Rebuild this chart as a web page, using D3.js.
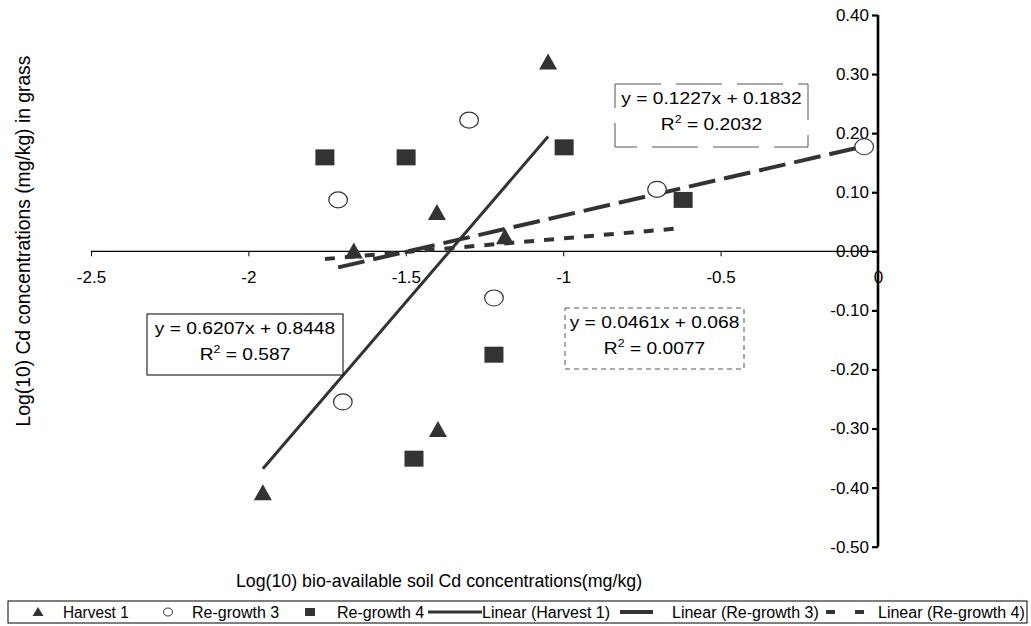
<!DOCTYPE html>
<html><head><meta charset="utf-8">
<script src="https://cdn.jsdelivr.net/npm/d3@7"></script>
<style>
html,body{margin:0;padding:0;background:#fff;}
svg{display:block;font-family:"Liberation Sans",Arial,sans-serif;}
</style></head>
<body><svg id="c" width="1031" height="626"></svg>
<script>
// ---- data ----
const xTickValues = [-2.5, -2, -1.5, -1, -0.5, 0];
const xTickLabels = ["-2.5", "-2", "-1.5", "-1", "-0.5", "0"];
const yTickValues = [0.4, 0.3, 0.2, 0.1, 0, -0.1, -0.2, -0.3, -0.4, -0.5];
const yTickLabels = ["0.40", "0.30", "0.20", "0.10", "0.00", "-0.10", "-0.20", "-0.30", "-0.40", "-0.50"];

const harvest1X = [-1.954, -1.665, -1.401, -1.398, -1.185, -1.048];
const harvest1Y = [-0.409, 0.000, 0.065, -0.302, 0.024, 0.320];
const regrowth3X = [-1.715, -1.299, -1.700, -1.220, -0.702, -0.044];
const regrowth3Y = [0.087, 0.222, -0.255, -0.079, 0.105, 0.177];
const regrowth4X = [-1.757, -1.499, -0.997, -1.220, -1.474, -0.619];
const regrowth4Y = [0.159, 0.159, 0.176, -0.175, -0.351, 0.087];

const seriesNames = ["Harvest 1", "Re-growth 3", "Re-growth 4"];
const trendSlopes = [0.6207, 0.1227, 0.0461];
const trendIntercepts = [0.8448, 0.1832, 0.068];
const eqLine1 = ["y = 0.6207x + 0.8448", "y = 0.1227x + 0.1832", "y = 0.0461x + 0.068"];
const eqR2 = ["0.587", "0.2032", "0.0077"];

const xTitle = "Log(10) bio-available soil Cd concentrations(mg/kg)";
const yTitle = "Log(10) Cd concentrations (mg/kg) in grass";

// ---- drawing ----
const svg = d3.select("#c");
const ink = "#333333";
const x = d3.scaleLinear().domain([-2.5, 0]).range([91, 878]);
const y = d3.scaleLinear().domain([-0.5, 0.4]).range([546.7, 15]);
const TICKF = 17;
const EQF = 17, EQSX = 1.13;

function stext(g, tx, ty, str, anchor, size, sx) {
  return g.append("text")
    .attr("transform", `translate(${tx},${ty}) scale(${sx},1)`)
    .attr("text-anchor", anchor).attr("font-size", size).attr("fill", "#000").text(str);
}

// y tick labels (left of axis)
const yAxisG = svg.append("g").attr("transform", `translate(${x(0)},0)`)
  .call(d3.axisLeft(y).tickValues(yTickValues).tickFormat((d, i) => yTickLabels[i]).tickSize(6).tickPadding(3));
yAxisG.select(".domain").remove();
yAxisG.selectAll(".tick line").attr("stroke", "#000").attr("stroke-width", 2.2);
yAxisG.selectAll(".tick text").attr("font-size", TICKF).attr("font-family", "Liberation Sans, Arial, sans-serif").attr("fill", "#000");

// x axis at y=0
const xAxisG = svg.append("g").attr("transform", `translate(0,${y(0)})`)
  .call(d3.axisBottom(x).tickValues(xTickValues).tickFormat((d, i) => xTickLabels[i]).tickSize(5).tickPadding(15));
xAxisG.select(".domain").attr("stroke", "#000").attr("stroke-width", 1.2).attr("d", `M${x(-2.5)},0H${x(0)}`);
xAxisG.selectAll(".tick line").attr("stroke", "#000").attr("stroke-width", 1);
xAxisG.selectAll(".tick text").attr("font-size", TICKF).attr("font-family", "Liberation Sans, Arial, sans-serif").attr("fill", "#000");

// y axis thick line
svg.append("line").attr("x1", x(0)).attr("x2", x(0)).attr("y1", y(0.4)).attr("y2", y(-0.5))
  .attr("stroke", "#000").attr("stroke-width", 2.6);

// trend lines
const xsAll = [harvest1X, regrowth3X, regrowth4X];
const dashes = [null, "27,9", "10,10"];
const widths = [3, 4, 4];
xsAll.forEach((xs, i) => {
  const [a, b] = d3.extent(xs);
  svg.append("line")
    .attr("x1", x(a)).attr("y1", y(trendSlopes[i] * a + trendIntercepts[i]))
    .attr("x2", x(b)).attr("y2", y(trendSlopes[i] * b + trendIntercepts[i]))
    .attr("stroke", ink).attr("stroke-width", widths[i])
    .attr("stroke-dasharray", dashes[i]);
});

// markers
function tri(cx, cy, w, h) { return `M${cx},${cy - h * 0.55}L${cx + w / 2},${cy + h * 0.45}L${cx - w / 2},${cy + h * 0.45}Z`; }
svg.append("g").selectAll("path").data(d3.zip(harvest1X, harvest1Y)).join("path")
  .attr("d", d => tri(x(d[0]), y(d[1]), 18, 16)).attr("fill", ink);
svg.append("g").selectAll("ellipse").data(d3.zip(regrowth3X, regrowth3Y)).join("ellipse")
  .attr("cx", d => x(d[0])).attr("cy", d => y(d[1])).attr("rx", 9.3).attr("ry", 8)
  .attr("fill", "#fff").attr("stroke", ink).attr("stroke-width", 1.2);
svg.append("g").selectAll("rect").data(d3.zip(regrowth4X, regrowth4Y)).join("rect")
  .attr("x", d => x(d[0]) - 9.5).attr("y", d => y(d[1]) - 8).attr("width", 19).attr("height", 16)
  .attr("fill", ink);

// equation boxes
const boxes = [
  {x: 147, y: 314, w: 196, h: 61, dash: null},
  {x: 615, y: 84, w: 193, h: 63, dash: "46,15"},
  {x: 565, y: 308, w: 179, h: 61, dash: "5,4"}
];
boxes.forEach((b, i) => {
  svg.append("rect").attr("x", b.x).attr("y", b.y).attr("width", b.w).attr("height", b.h)
    .attr("fill", "#fff").attr("stroke", i === 0 ? "#000" : "#555").attr("stroke-width", 1)
    .attr("stroke-dasharray", b.dash);
  const cx = b.x + b.w / 2;
  stext(svg, cx, b.y + 20, eqLine1[i], "middle", EQF, EQSX);
  const t = stext(svg, cx, b.y + 46, "", "middle", EQF, EQSX);
  t.append("tspan").text("R");
  t.append("tspan").attr("font-size", 11).attr("dy", -7).text("2");
  t.append("tspan").attr("dy", 7).text(" = " + eqR2[i]);
});

// axis titles
stext(svg, 439, 587, xTitle, "middle", 17.8, 1.0);
svg.append("text").attr("transform", "translate(30,241) rotate(-90)")
  .attr("text-anchor", "middle").attr("font-size", 19.3).attr("fill", "#000").text(yTitle);

// legend
const leg = svg.append("g");
leg.append("rect").attr("x", 8).attr("y", 601).attr("width", 1019).attr("height", 22)
  .attr("fill", "#fff").attr("stroke", "#000").attr("stroke-width", 1);
const ly = 612, lb = 617.5, LF = 16;
leg.append("path").attr("d", tri(38, ly, 11, 9)).attr("fill", ink);
stext(leg, 63, lb, seriesNames[0], "start", LF, 0.96);
leg.append("ellipse").attr("cx", 168).attr("cy", ly).attr("rx", 4.5).attr("ry", 4)
  .attr("fill", "#fff").attr("stroke", ink).attr("stroke-width", 1);
stext(leg, 192, lb, seriesNames[1], "start", LF, 1);
leg.append("rect").attr("x", 305).attr("y", ly - 4).attr("width", 10).attr("height", 8).attr("fill", ink);
stext(leg, 337, lb, seriesNames[2], "start", LF, 1);
leg.append("line").attr("x1", 428).attr("x2", 482).attr("y1", ly).attr("y2", ly).attr("stroke", ink).attr("stroke-width", 3);
stext(leg, 482, lb, "Linear (" + seriesNames[0] + ")", "start", LF, 1);
leg.append("line").attr("x1", 620).attr("x2", 653).attr("y1", ly).attr("y2", ly).attr("stroke", ink).attr("stroke-width", 4);
stext(leg, 672, lb, "Linear (" + seriesNames[1] + ")", "start", LF, 1);
leg.append("line").attr("x1", 826).attr("x2", 865).attr("y1", ly).attr("y2", ly).attr("stroke", ink).attr("stroke-width", 4).attr("stroke-dasharray", "9,20");
stext(leg, 878, lb, "Linear (" + seriesNames[2] + ")", "start", LF, 1);
</script></body></html>
